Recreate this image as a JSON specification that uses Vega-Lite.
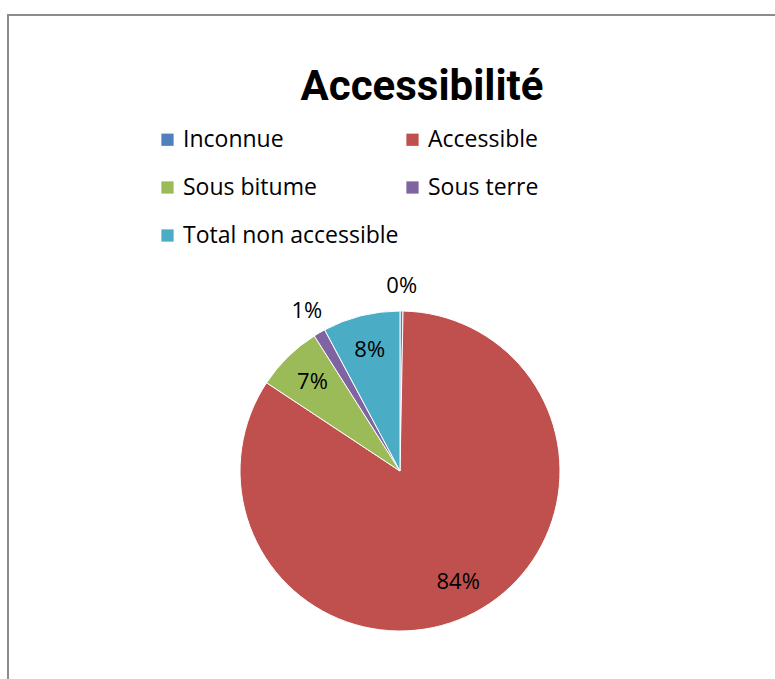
{
  "$schema": "https://vega.github.io/schema/vega-lite/v6.json",
  "autosize": "none",
  "width": 784,
  "height": 912,
  "padding": {"left": 8, "top": 15, "right": 0, "bottom": 0},
  "background": "white",
  "view": {"stroke": "#8c8c8c", "strokeWidth": 2, "fill": "white"},
  "title": {
    "text": "Accessibilité",
    "font": "Roboto",
    "fontSize": 42,
    "fontWeight": "bold",
    "color": "black",
    "anchor": "middle",
    "frame": "group",
    "baseline": "alphabetic",
    "offset": -127,
    "dx": 22
  },
  "data": {
    "values": [
      {"category": "Inconnue", "value": 0.003, "k": 1},
      {"category": "Accessible", "value": 0.840, "k": 2},
      {"category": "Sous bitume", "value": 0.067, "k": 3},
      {"category": "Sous terre", "value": 0.012, "k": 4},
      {"category": "Total non accessible", "value": 0.078, "k": 5}
    ]
  },
  "layer": [
    {
      "mark": {"type": "arc", "outerRadius": 160, "stroke": "white", "strokeWidth": 1},
      "encoding": {
        "theta": {"field": "value", "type": "quantitative", "stack": true},
        "order": {"field": "k", "type": "quantitative"},
        "color": {
          "field": "category",
          "type": "nominal",
          "scale": {
            "domain": ["Inconnue", "Sous bitume", "Total non accessible", "Accessible", "Sous terre"],
            "range": ["#4F81BD", "#9BBB59", "#4BACC6", "#C0504D", "#8064A2"]
          },
          "legend": {
            "orient": "none",
            "legendX": 148,
            "legendY": 113,
            "columns": 2,
            "columnPadding": 2,
            "rowPadding": 24,
            "title": null,
            "symbolType": "square",
            "symbolSize": 150,
            "symbolStrokeWidth": 0,
            "labelFont": "Open Sans",
            "labelFontSize": 23,
            "labelColor": "black",
            "labelOffset": 4,
            "labelLimit": 400,
            "padding": 0
          }
        }
      }
    },
    {
      "mark": {"type": "text", "radius": 125, "font": "Open Sans", "fontSize": 22, "color": "black", "align": "center", "baseline": "middle"},
      "encoding": {
        "theta": {"field": "value", "type": "quantitative", "stack": true},
        "order": {"field": "k", "type": "quantitative"},
        "text": {"condition": {"test": "datum.value < 0.02", "value": ""}, "field": "value", "type": "quantitative", "format": ".0%"}
      }
    },
    {
      "mark": {"type": "text", "radius": 185, "font": "Open Sans", "fontSize": 22, "color": "black", "align": "center", "baseline": "middle"},
      "encoding": {
        "theta": {"field": "value", "type": "quantitative", "stack": true},
        "order": {"field": "k", "type": "quantitative"},
        "text": {"condition": {"test": "datum.value >= 0.02", "value": ""}, "field": "value", "type": "quantitative", "format": ".0%"}
      }
    }
  ]
}
